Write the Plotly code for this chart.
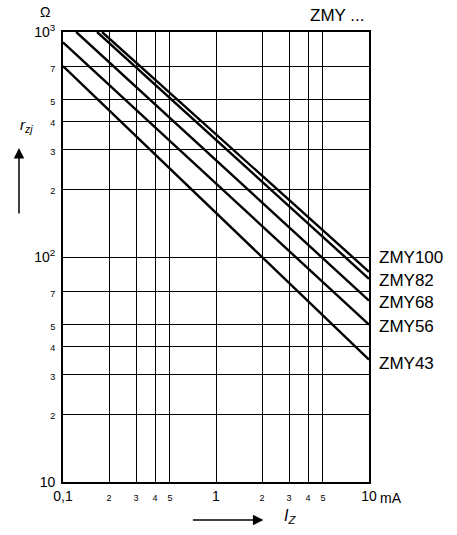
import math
import plotly.graph_objects as go

# ---- data ----
series_names = ["ZMY100", "ZMY82", "ZMY68", "ZMY56", "ZMY43"]
iz_start = [0.18, 0.167, 0.122, 0.1, 0.1]        # mA
rz_start = [1000, 1000, 1000, 900, 705]           # ohm
iz_end = [10, 10, 10, 10, 10]                     # mA
rz_end = [86, 80, 64, 50, 35]                     # ohm
label_y = [99, 79, 63, 49, 33.5]                  # ohm, label anchor

x_tickvals = [0.1, 0.2, 0.3, 0.4, 0.5, 1, 2, 3, 4, 5, 10]
x_ticktext = ["0,1", "2", "3", "4", "5", "1", "2", "3", "4", "5", "10"]
y_tickvals = [10, 20, 30, 40, 50, 70, 100, 200, 300, 400, 500, 700, 1000]
y_ticktext = ["10", "2", "3", "4", "5", "7", "10<sup>2</sup>", "2", "3", "4", "5", "7", "10<sup>3</sup>"]
big_x = {"0,1", "1", "10"}
big_y = {"10", "10<sup>2</sup>", "10<sup>3</sup>"}

FONT = "Liberation Sans, Arial, sans-serif"

def fmt(t, big):
    size = 14 if big else 9
    return f"<span style='font-size:{size}px'>{t}</span>"

fig = go.Figure()
for name, x0, y0, x1, y1 in zip(series_names, iz_start, rz_start, iz_end, rz_end):
    fig.add_trace(go.Scatter(x=[x0, x1], y=[y0, y1], mode="lines",
                             line=dict(color="black", width=2.4),
                             name=name, showlegend=False, hoverinfo="skip"))

for name, ly in zip(series_names, label_y):
    fig.add_annotation(x=1.025, xref="paper", y=math.log10(ly), yref="y",
                       text=name, showarrow=False, xanchor="left", yanchor="middle",
                       font=dict(family=FONT, size=17, color="black"))

fig.update_xaxes(type="log", range=[-1, 1],
                 tickvals=x_tickvals,
                 ticktext=[fmt(t, t in big_x) for t in x_ticktext],
                 showgrid=True, gridcolor="black", gridwidth=1.3,
                 showline=True, linecolor="black", linewidth=1.8, mirror=True,
                 ticks="", zeroline=False,
                 tickfont=dict(family=FONT, size=14, color="black"))
fig.update_yaxes(type="log", range=[1, 3],
                 tickvals=y_tickvals,
                 ticktext=[fmt(t, t in big_y) for t in y_ticktext],
                 showgrid=True, gridcolor="black", gridwidth=1.3,
                 showline=True, linecolor="black", linewidth=1.8, mirror=True,
                 ticks="", zeroline=False, ticklabelstandoff=3,
                 tickfont=dict(family=FONT, size=14, color="black"))

def note(x, y, text, size, xanchor="center", **kw):
    fig.add_annotation(x=x, y=y, xref="paper", yref="paper", text=text,
                       showarrow=False, xanchor=xanchor, yanchor="middle",
                       font=dict(family=FONT, size=size, color="black"), **kw)

# units / titles
note(1.03, 0.0, "mA", 14, xanchor="left", yshift=-16)
note(-0.0588, 1.044, "Ω", 14)
note(0.895, 1.036, "ZMY ...", 17)
note(-0.118, 0.793, "<i>r</i><sub><i>zj</i></sub>", 15)
note(0.742, -0.076, "<i>I</i><sub><i>Z</i></sub>", 16)

fig.add_annotation(x=-0.1438, y=0.742, xref="paper", yref="paper",
                   ax=0, ay=67, axref="pixel", ayref="pixel", text="",
                   showarrow=True, arrowhead=2, arrowsize=1.4, arrowwidth=1.5, arrowcolor="black")
fig.add_annotation(x=0.655, y=-0.0844, xref="paper", yref="paper",
                   ax=-72, ay=0, text="", showarrow=True, arrowhead=2,
                   arrowsize=1.4, arrowwidth=1.5, arrowcolor="black")

fig.update_layout(width=457, height=535,
                  margin=dict(l=63, r=88, t=32, b=53),
                  paper_bgcolor="white", plot_bgcolor="white",
                  font=dict(family=FONT, color="black"))

fig.write_html("out.html", config={"displayModeBar": False},
               post_script="document.body.style.margin='0';")
